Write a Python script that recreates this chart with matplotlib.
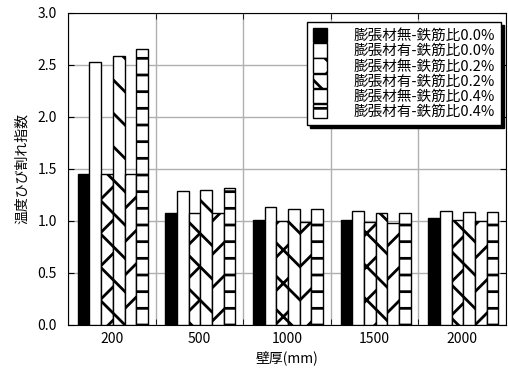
import numpy as np
import matplotlib.pyplot as plt

plt.rcParams['font.family'] = ['Noto Sans CJK JP', 'DejaVu Sans']
plt.rcParams['hatch.linewidth'] = 2.0

thickness = ['200', '500', '1000', '1500', '2000']
labels = ['膨張材無-鉄筋比0.0%', '膨張材有-鉄筋比0.0%',
          '膨張材無-鉄筋比0.2%', '膨張材有-鉄筋比0.2%',
          '膨張材無-鉄筋比0.4%', '膨張材有-鉄筋比0.4%']
nashi_00 = [1.45, 1.08, 1.01, 1.01, 1.03]
ari_00 = [2.53, 1.29, 1.13, 1.10, 1.10]
nashi_02 = [1.45, 1.08, 1.00, 0.99, 1.01]
ari_02 = [2.59, 1.30, 1.12, 1.08, 1.09]
nashi_04 = [1.45, 1.08, 0.99, 0.98, 1.00]
ari_04 = [2.65, 1.32, 1.12, 1.08, 1.09]

series = [nashi_00, ari_00, nashi_02, ari_02, nashi_04, ari_04]
fills = ['black', 'white', 'white', 'white', 'white', 'white']
hatches = [None, None, 'x', '\\', '/', '-']

fig = plt.figure(figsize=(5.08, 3.73), dpi=100)
ax = fig.add_axes([68 / 508, 48 / 373, 438 / 508, 312 / 373])

x = np.arange(len(thickness))
w = 0.8 / 6
for i, vals in enumerate(series):
    ax.bar(x - 0.4 + w * (i + 0.5) + 0.012, vals, w, color=fills[i],
           edgecolor='black', linewidth=1.0, hatch=hatches[i],
           label=labels[i], zorder=3)

ax.set_xlim(-0.5, 4.5)
ax.set_ylim(0, 3.0)
ax.set_yticks(np.arange(0, 3.01, 0.5))
ax.set_yticklabels(['%.1f' % v for v in np.arange(0, 3.01, 0.5)], fontsize=10)
ax.set_xticks(x)
ax.set_xticklabels(thickness, fontsize=10)
ax.set_xticks(np.arange(-0.5, 4.6, 1), minor=True)
ax.tick_params(axis='x', which='major', length=0, pad=5)
ax.tick_params(axis='x', which='minor', direction='in', length=4, top=True)
ax.tick_params(axis='y', direction='in', length=4, right=True, pad=8)
ax.grid(True, which='minor', axis='x', color='#b0b0b0', linewidth=1, zorder=0)
ax.grid(True, which='major', axis='y', color='#b0b0b0', linewidth=1, zorder=0)
ax.set_axisbelow(True)
for s in ax.spines.values():
    s.set_linewidth(0.8)

ax.set_ylabel('温度ひび割れ指数', fontsize=10, labelpad=6)
ax.set_xlabel('壁厚(mm)', fontsize=10, labelpad=3)

leg = ax.legend(loc='upper right', bbox_to_anchor=(0.995, 0.98), fontsize=10.5,
                handlelength=1.0, handleheight=1.15, labelspacing=0.0,
                handletextpad=1.8, borderpad=0.4, borderaxespad=0.2,
                fancybox=False,
                shadow={'color': 'black', 'alpha': 1, 'ox': 2, 'oy': -2},
                framealpha=1, edgecolor='black')
leg.get_frame().set_linewidth(1.0)

fig.savefig('out.png', dpi=100)
